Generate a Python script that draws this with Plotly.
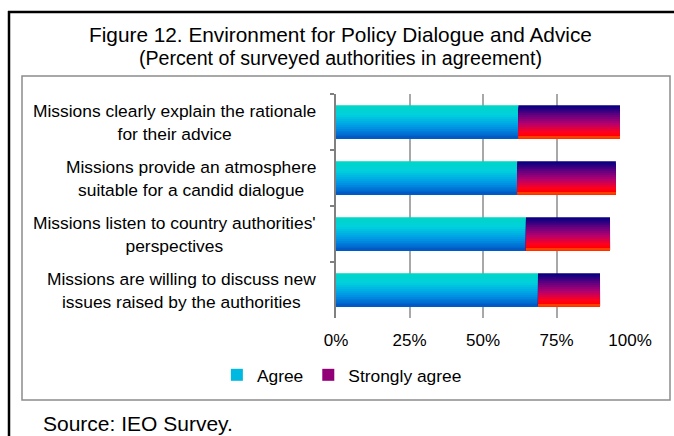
import plotly.graph_objects as go

categories = [
    "Missions clearly explain the rationale<br>for their advice",
    "Missions provide an atmosphere<br>suitable for a candid dialogue",
    "Missions listen to country authorities'<br>perspectives",
    "Missions are willing to discuss new<br>issues raised by the authorities",
]
agree = [62.0, 61.6, 64.6, 68.7]
strongly_agree = [34.6, 33.6, 28.6, 21.1]
x_ticks = [0, 25, 50, 75, 100]
x_tick_labels = ["0%", "25%", "50%", "75%", "100%"]

FONT = "Liberation Sans, Arial, sans-serif"

# gradient stops (top -> bottom of each bar)
agree_stops = [(0.0, (0, 214, 196)), (0.3, (0, 208, 222)), (0.65, (0, 150, 230)), (1.0, (0, 85, 195))]
strong_stops = [(0.0, (0, 0, 128)), (0.3, (100, 0, 128)), (0.55, (180, 0, 110)),
                (0.8, (255, 0, 30)), (0.92, (255, 0, 0)), (1.0, (255, 100, 0))]


def grad(stops, t):
    for (t0, c0), (t1, c1) in zip(stops[:-1], stops[1:]):
        if t <= t1:
            f = (t - t0) / (t1 - t0) if t1 > t0 else 0
            return "rgb(%d,%d,%d)" % tuple(round(a + (b - a) * f) for a, b in zip(c0, c1))
    return "rgb(%d,%d,%d)" % stops[-1][1]


N = 17
BW = 0.6
step = BW / N
fig = go.Figure()

for name, vals, base, stops in [
    ("Agree", agree, None, agree_stops),
    ("Strongly agree", strongly_agree, agree, strong_stops),
]:
    for i in range(N):
        t = (i + 0.5) / N
        # each slice runs from its own top edge down to the bar bottom;
        # later slices cover the lower part, so there are no seams
        fig.add_trace(go.Bar(
            x=vals, y=categories, base=base, orientation="h",
            width=BW - i * step,
            offset=-BW / 2 + i * step,
            marker=dict(color=grad(stops, t), line=dict(width=0)),
            name=name, legendgroup=name,
            showlegend=(i == N // 2 - 1),
            hoverinfo="x+name",
        ))

# y labels as centered multi-line annotations
for c in categories:
    fig.add_annotation(
        x=-0.061, xref="paper", y=c, yref="y", text=c, showarrow=False,
        xanchor="right", yanchor="middle", align="center",
        font=dict(family=FONT, size=17.4, color="black"),
    )


def py(px):
    return 1 - (px - 94) / 224


def px_x(px):
    return (px - 336) / 294


# title lines
fig.add_annotation(x=px_x(340), xref="paper", y=py(35), yref="paper",
                   text="Figure 12. Environment for Policy Dialogue and Advice",
                   showarrow=False, xanchor="center", yanchor="middle",
                   font=dict(family=FONT, size=20.8, color="black"))
fig.add_annotation(x=px_x(340), xref="paper", y=py(58), yref="paper",
                   text="(Percent of surveyed authorities in agreement)",
                   showarrow=False, xanchor="center", yanchor="middle",
                   font=dict(family=FONT, size=19.6, color="black"))
# source
fig.add_annotation(x=px_x(41), xref="paper", y=py(423), yref="paper",
                   text="Source: IEO Survey.", showarrow=False,
                   xanchor="left", yanchor="middle",
                   font=dict(family=FONT, size=21, color="black"))

# inner chart-area frame
fig.add_shape(type="rect", xref="paper", yref="paper",
              x0=px_x(22), x1=px_x(670), y0=py(400), y1=py(76),
              line=dict(color="#8c8c8c", width=1.5), layer="below")
# outer black frame: only left and top sides are inside the picture
fig.add_shape(type="line", xref="paper", yref="paper",
              x0=px_x(9), x1=px_x(9), y0=py(437), y1=py(11),
              line=dict(color="black", width=2.5), layer="below")
fig.add_shape(type="line", xref="paper", yref="paper",
              x0=px_x(8), x1=px_x(674), y0=py(12), y1=py(12),
              line=dict(color="black", width=2.5), layer="below")

fig.update_layout(
    width=674, height=436,
    margin=dict(l=336, r=44, t=94, b=118),
    paper_bgcolor="white", plot_bgcolor="white",
    barmode="overlay",
    font=dict(family=FONT, size=17, color="black"),
    showlegend=True,
    legend=dict(orientation="h", x=0.02, xanchor="center", y=py(375),
                yanchor="middle", font=dict(family=FONT, size=17.4, color="black"),
                itemwidth=30, tracegroupgap=0, bgcolor="rgba(0,0,0,0)"),
    xaxis=dict(range=[0, 100], tickvals=x_ticks, ticktext=x_tick_labels,
               showgrid=True, gridcolor="#a8a8a8", gridwidth=1.5,
               zeroline=False, showline=False, ticks="",
               ticklabelstandoff=10, tickfont=dict(family=FONT, size=17, color="black"),
               fixedrange=True),
    yaxis=dict(autorange="reversed", showticklabels=False, showgrid=False,
               showline=True, linecolor="#808080", linewidth=2,
               ticks="outside", tickson="boundaries", ticklen=4, tickcolor="#808080",
               tickwidth=1.5, zeroline=False, fixedrange=True),
)

fig.write_html("out.html")
